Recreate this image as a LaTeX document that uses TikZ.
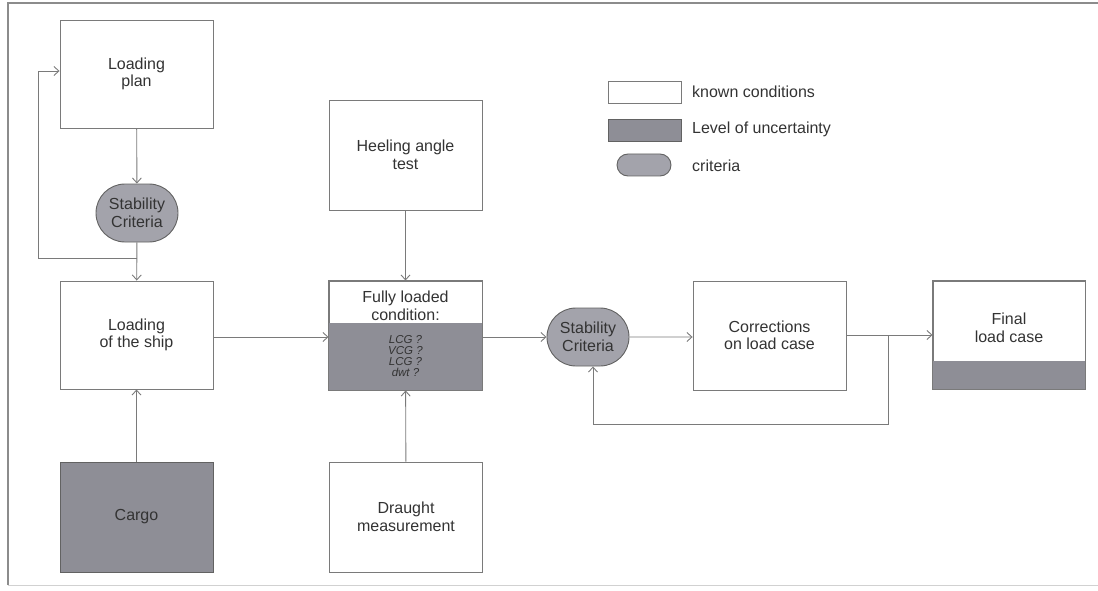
\documentclass[tikz,border=0pt]{standalone}
\usepackage{fontspec}
\setmainfont{Liberation Sans}
\usetikzlibrary{arrows.meta,shapes.misc}
\definecolor{linec}{HTML}{7A7A7A}
\definecolor{textc}{HTML}{333333}
\definecolor{uncert}{HTML}{8E8E96}
\definecolor{critc}{HTML}{A3A3AB}
\definecolor{framec}{HTML}{8C8C8C}
\tikzset{
  known/.style={draw=linec, line width=0.9pt, fill=white, minimum width=153pt,
    minimum height=108pt, inner sep=0pt, align=center, text=textc,
    font=\fontsize{16}{17.5}\selectfont},
  unknown/.style={known, fill=uncert, draw=linec!80!black},
  crit/.style={draw=linec!80!black, line width=0.9pt, fill=critc, rounded rectangle,
    minimum width=82pt, minimum height=58pt, inner sep=0pt, align=center, text=textc,
    font=\fontsize{16}{17.5}\selectfont},
  flow/.style={draw=linec, line width=0.9pt, -{Straight Barb[length=5pt,width=9pt]}},
  lbl/.style={anchor=west, inner sep=0pt, text=textc, font=\fontsize{16}{17.5}\selectfont},
}
\begin{document}
\begin{tikzpicture}[x=1pt,y=-1pt]
\useasboundingbox (0,0) rectangle (1098,591);
% frame
\draw[framec, line width=1.2pt] (8,585) -- (8,3) -- (1098,3);
\draw[framec!40, line width=1pt] (8,585) -- (1098,585);

% left column
\node[known] (plan) at (136.5,74) {Loading\\plan};
\node[crit] (crit1) at (137,213) {Stability\\Criteria};
\node[known] (ship) at (136.5,335) {Loading\\of the ship};
\node[unknown, minimum height=110pt] (cargo) at (136.5,517) {Cargo};

% middle column
\node[known, minimum height=110pt] (heel) at (405.5,155) {Heeling angle\\test};
\node[known, minimum height=109pt] (full) at (405.5,335.5) {};
\fill[uncert] ([yshift=-42pt]full.north west) rectangle (full.south east);
\draw[linec, line width=0.9pt] (full.north west) rectangle (full.south east);
\node[align=center, text=textc, inner sep=0pt, font=\fontsize{16}{17.5}\selectfont]
  (fullt) at (405.5,306) {Fully loaded\\condition:};
\node[align=center, text=textc, inner sep=0pt, font=\fontsize{11.5}{11}\selectfont\itshape]
  (fullq) at (405.5,356) {LCG ?\\VCG ?\\LCG ?\\dwt ?};
\node[known, minimum height=110pt] (draught) at (406,517) {Draught\\measurement};

% right part
\node[crit] (crit2) at (588,337) {Stability\\Criteria};
\node[known, minimum height=109pt] (corr) at (769.5,335.5) {Corrections\\on load case};
\node[known, minimum width=152pt] (final) at (1009,335) {};
\fill[uncert] ([yshift=-80pt]final.north west) rectangle (final.south east);
\draw[linec, line width=0.9pt] (final.north west) rectangle (final.south east);
\node[align=center, text=textc, inner sep=0pt, font=\fontsize{16}{17.5}\selectfont]
  (finalt) at (1009,328) {Final\\load case};

% legend
\node[known, minimum width=73pt, minimum height=22pt] (lgk) at (644.5,92) {};
\node[lbl] (lgkt) at (692,92) {known conditions};
\node[unknown, minimum width=73pt, minimum height=22pt] (lgu) at (644.5,130) {};
\node[lbl] (lgut) at (692,129) {Level of uncertainty};
\node[crit, minimum width=54pt, minimum height=22pt] (lgc) at (644,165) {};
\node[lbl] (lgct) at (692,166) {criteria};

% connectors
\coordinate (j1) at (137,258);
\coordinate (j2) at (888,335);
\draw[flow] (plan) -- (crit1);
\draw[flow] (crit1) -- (ship);
\draw[flow] (j1) -- (38,258) -- (38,71) -- (plan.west |- 0,71);
\draw[flow] (cargo) -- (ship);
\draw[flow] (heel) -- (full);
\draw[flow] (draught) -- (full);
\draw[flow] (ship.east |- 0,337) -- (full.west |- 0,337);
\draw[flow] (full.east |- 0,337) -- (crit2);
\draw[flow] (crit2) -- (corr.west |- 0,337);
\draw[flow] (corr.east |- 0,335) -- (final.west |- 0,335);
\draw[flow] (j2) -- (888,424) -- (593,424) -- (crit2.south -| 593,0);
\end{tikzpicture}
\end{document}
